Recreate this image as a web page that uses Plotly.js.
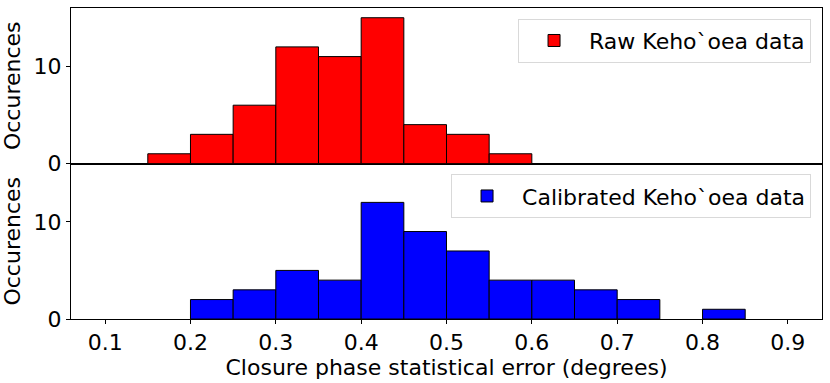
<!DOCTYPE html>
<html>
<head>
<meta charset="utf-8">
<script src="https://cdn.plot.ly/plotly-3.0.1.min.js"></script>
<style>html,body{margin:0;padding:0;background:#fff;}#chart{width:830px;height:383px;}</style>
</head>
<body>
<div id="chart"></div>
<script>
// Bin left edges (degrees), bin width 0.05
const binEdges = [0.10, 0.15, 0.20, 0.25, 0.30, 0.35, 0.40, 0.45, 0.50, 0.55, 0.60, 0.65, 0.70, 0.75, 0.80, 0.85];
const binWidth = 0.05;
// Counts per bin
const rawCounts = [0, 1, 3, 6, 12, 11, 15, 4, 3, 1, 0, 0, 0, 0, 0, 0];
const calCounts = [0, 0, 2, 3, 5, 4, 12, 9, 7, 4, 4, 3, 2, 0, 1, 0];
const rawName = "Raw Keho`oea data";
const calName = "Calibrated Keho`oea data";
const xTicks = [0.1, 0.2, 0.3, 0.4, 0.5, 0.6, 0.7, 0.8, 0.9];
const yTicks = [0, 10];

const centers = binEdges.map(e => e + binWidth / 2);
// hide empty bins (matplotlib draws nothing visible for them)
function nz(counts) {
  const xs = [], ys = [];
  counts.forEach((c, i) => { if (c > 0) { xs.push(centers[i]); ys.push(c); } });
  return {xs, ys};
}
const rawNZ = nz(rawCounts), calNZ = nz(calCounts);

const FONT = "DejaVu Sans, sans-serif";
const FS = 22;

const traces = [
  {
    type: "bar", x: rawNZ.xs, y: rawNZ.ys, width: binWidth, name: rawName,
    xaxis: "x2", yaxis: "y2", legend: "legend",
    marker: {color: "#ff0000", line: {color: "#000", width: 1}},
    hoverinfo: "x+y"
  },
  {
    type: "bar", x: calNZ.xs, y: calNZ.ys, width: binWidth, name: calName,
    xaxis: "x", yaxis: "y", legend: "legend2",
    marker: {color: "#0000ff", line: {color: "#000", width: 1}},
    hoverinfo: "x+y"
  }
];

const yBase = {
  range: [0, 16], tickvals: yTicks, ticks: "outside", ticklen: 4, tickcolor: "#000",
  showline: true, mirror: true, linecolor: "#000", linewidth: 1, showgrid: false, zeroline: false,
  tickfont: {size: FS, color: "#000", family: FONT},
  title: {text: "Occurences", font: {size: FS, color: "#000", family: FONT}, standoff: 6}
};

const legBase = {
  xanchor: "right", yanchor: "top", itemwidth: 60,
  bgcolor: "rgba(255,255,255,0.8)", bordercolor: "#d9d9d9", borderwidth: 1,
  font: {size: FS, color: "#000", family: FONT}
};

const layout = {
  width: 830, height: 383,
  margin: {l: 71, r: 8, t: 8, b: 64},
  paper_bgcolor: "#fff", plot_bgcolor: "#fff",
  font: {family: FONT, color: "#000", size: FS},
  bargap: 0,
  showlegend: true,
  xaxis: {
    range: [0.06, 0.94], tickvals: xTicks, ticktext: xTicks.map(v => v.toFixed(1)),
    ticks: "outside", ticklen: 4, tickcolor: "#000",
    showline: true, mirror: true, linecolor: "#000", linewidth: 1, showgrid: false, zeroline: false,
    anchor: "y", tickfont: {size: FS, color: "#000", family: FONT},
    title: {text: "Closure phase statistical error (degrees)", font: {size: FS, color: "#000", family: FONT}, standoff: 2}
  },
  xaxis2: {
    range: [0.06, 0.94], matches: "x", anchor: "y2", showticklabels: false, ticks: "",
    showline: true, mirror: true, linecolor: "#000", linewidth: 1, showgrid: false, zeroline: false
  },
  yaxis: Object.assign({}, yBase, {domain: [0, 0.5], anchor: "x"}),
  yaxis2: Object.assign({}, yBase, {domain: [0.5, 1], anchor: "x2"}),
  legend: Object.assign({}, legBase, {x: 0.9854, y: 0.9656}),
  legend2: Object.assign({}, legBase, {x: 0.9854, y: 0.4657})
};

Plotly.newPlot("chart", traces, layout, {displayModeBar: false, staticPlot: true});
</script>
</body>
</html>
